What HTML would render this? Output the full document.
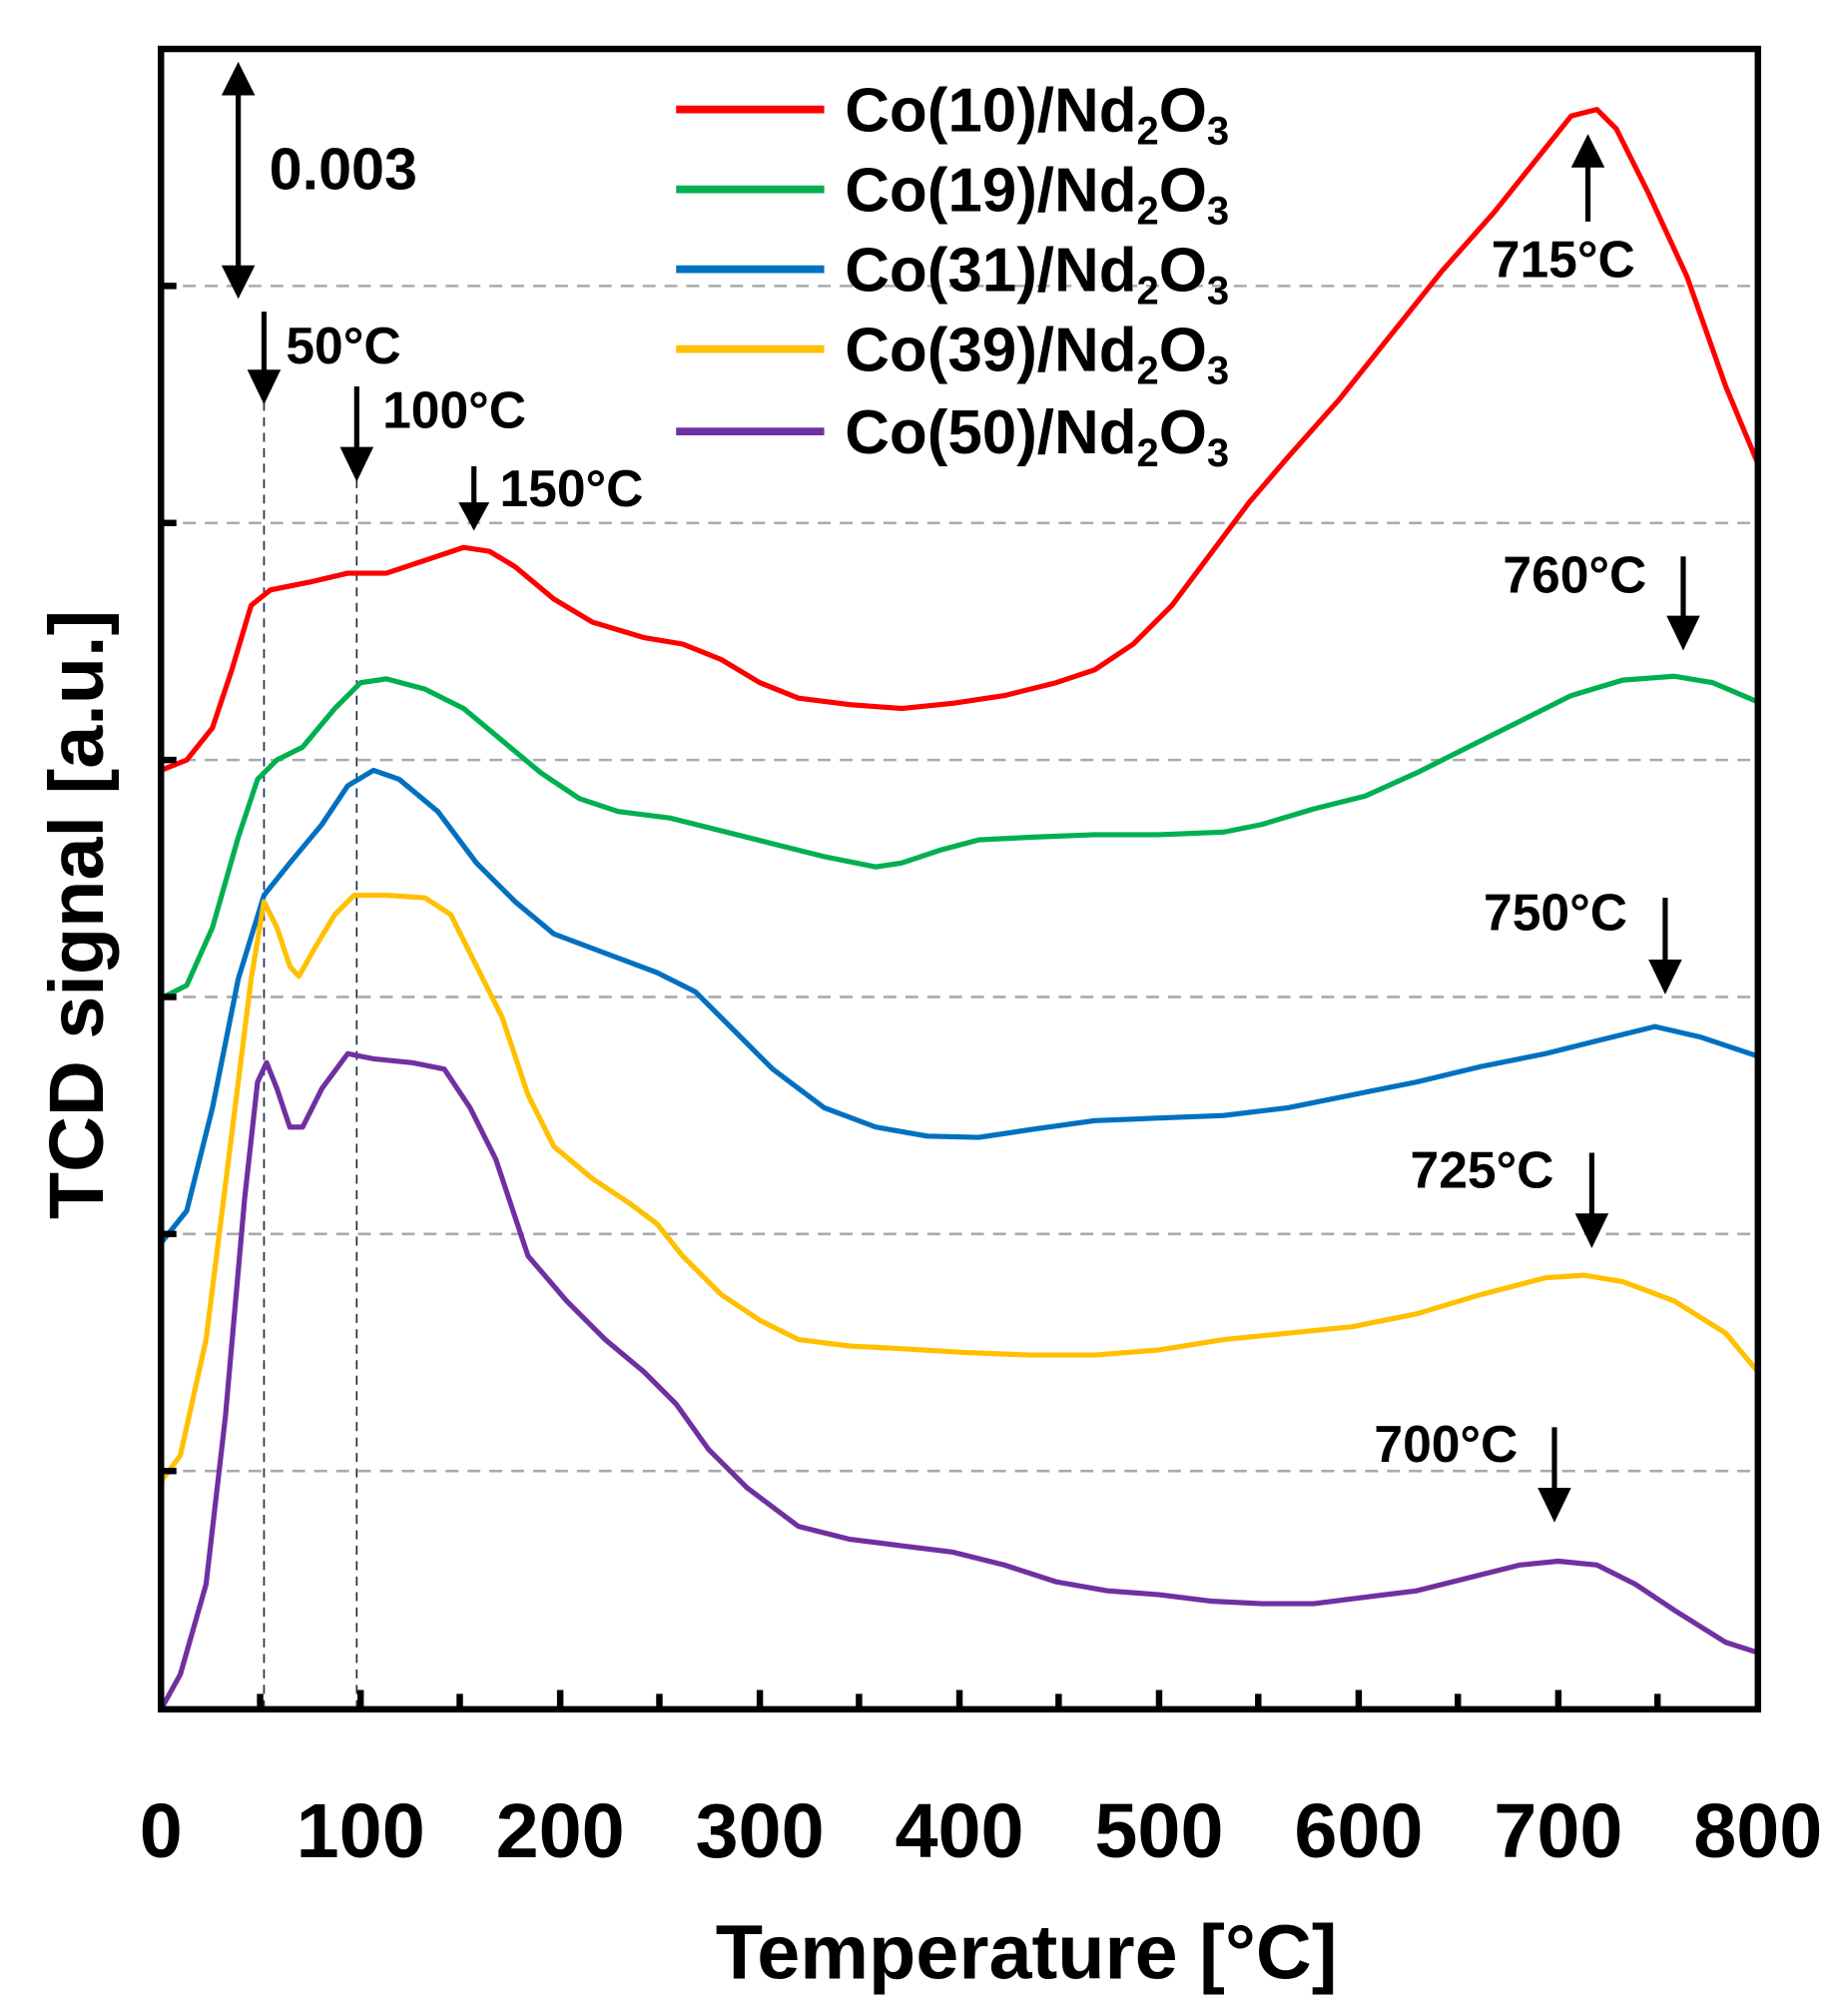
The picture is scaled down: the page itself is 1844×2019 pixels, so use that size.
<!DOCTYPE html>
<html><head><meta charset="utf-8"><style>
html,body{margin:0;padding:0;background:#fff;width:1844px;height:2019px;overflow:hidden}
svg{display:block}
text{font-family:"Liberation Sans",sans-serif;font-weight:bold;fill:#000}
</style></head><body>
<svg width="1844" height="2019" viewBox="0 0 1429.5 1565.1" preserveAspectRatio="none">
<g stroke="#aaa" stroke-width="2" stroke-dasharray="10,7">
<line x1="125" y1="222" x2="1365" y2="222"/><line x1="125" y1="406" x2="1365" y2="406"/>
<line x1="125" y1="590" x2="1365" y2="590"/><line x1="125" y1="774" x2="1365" y2="774"/>
<line x1="125" y1="958" x2="1365" y2="958"/><line x1="125" y1="1142" x2="1365" y2="1142"/>
</g>
<g stroke="#1f2d4d" stroke-width="1.3" stroke-dasharray="7,5">
<line x1="205" y1="312" x2="205" y2="1327"/><line x1="277" y1="372" x2="277" y2="1327"/>
</g>
<g fill="none" stroke-width="4" stroke-linejoin="round" stroke-linecap="round">
<polyline stroke="#ff0000" points="125,598 145,590 165,565 180,520 195,470 210,458 240,452 270,445 300,445 330,435 360,425 380,428 400,440 430,465 460,483 500,495 530,500 560,512 590,530 620,542 660,547 700,550 740,546 780,540 820,530 850,520 880,500 910,470 940,430 970,390 1000,355 1040,310 1080,260 1120,210 1160,165 1200,115 1220,90 1240,85 1255,100 1280,150 1310,215 1340,300 1365,360"/>
<polyline stroke="#00b050" points="125,775 145,765 165,720 185,650 200,605 215,590 235,580 260,550 280,530 300,527 330,535 360,550 390,575 420,600 450,620 480,630 520,635 560,645 600,655 640,665 680,673 700,670 730,660 760,652 800,650 850,648 900,648 950,646 980,640 1020,628 1060,618 1100,600 1140,580 1180,560 1220,540 1260,528 1300,525 1330,530 1365,545"/>
<polyline stroke="#0070c0" points="125,965 145,940 165,860 185,760 205,695 225,670 250,640 270,610 290,598 310,605 340,630 370,670 400,700 430,725 470,740 510,755 540,770 570,800 600,830 640,860 680,875 720,882 760,883 800,877 850,870 900,868 950,866 1000,860 1050,850 1100,840 1150,828 1200,818 1240,808 1285,797 1320,805 1365,820"/>
<polyline stroke="#ffc000" points="125,1150 140,1130 160,1040 180,880 195,760 205,700 215,720 225,750 232,758 245,735 260,710 275,695 300,695 330,697 350,710 370,750 390,790 410,850 430,890 460,915 490,935 510,950 530,975 560,1005 590,1025 620,1040 660,1045 700,1047 750,1050 800,1052 850,1052 900,1048 950,1040 1000,1035 1050,1030 1100,1020 1150,1005 1200,992 1230,990 1260,995 1300,1010 1340,1035 1365,1065"/>
<polyline stroke="#7030a0" points="125,1327 140,1300 160,1230 175,1100 190,930 200,840 207,825 215,845 225,875 235,875 250,845 270,818 290,822 320,825 345,830 365,860 385,900 410,975 440,1010 470,1040 500,1065 525,1090 550,1125 580,1155 620,1185 660,1195 700,1200 740,1205 780,1215 820,1228 860,1235 900,1238 940,1243 980,1245 1020,1245 1060,1240 1100,1235 1140,1225 1180,1215 1210,1212 1240,1215 1270,1230 1300,1250 1340,1275 1365,1283"/>
</g>
<g stroke="#000" stroke-width="5">
<line x1="125" y1="222" x2="137" y2="222"/><line x1="125" y1="406" x2="137" y2="406"/><line x1="125" y1="590" x2="137" y2="590"/>
<line x1="125" y1="774" x2="137" y2="774"/><line x1="125" y1="958" x2="137" y2="958"/><line x1="125" y1="1142" x2="137" y2="1142"/>
<line x1="202" y1="1327" x2="202" y2="1315"/><line x1="280" y1="1327" x2="280" y2="1312"/><line x1="357" y1="1327" x2="357" y2="1315"/>
<line x1="435" y1="1327" x2="435" y2="1312"/><line x1="512" y1="1327" x2="512" y2="1315"/><line x1="590" y1="1327" x2="590" y2="1312"/>
<line x1="667" y1="1327" x2="667" y2="1315"/><line x1="745" y1="1327" x2="745" y2="1312"/><line x1="822" y1="1327" x2="822" y2="1315"/>
<line x1="900" y1="1327" x2="900" y2="1312"/><line x1="977" y1="1327" x2="977" y2="1315"/><line x1="1055" y1="1327" x2="1055" y2="1312"/>
<line x1="1132" y1="1327" x2="1132" y2="1315"/><line x1="1210" y1="1327" x2="1210" y2="1312"/><line x1="1287" y1="1327" x2="1287" y2="1315"/>
</g>
<rect x="125" y="38" width="1240" height="1289" fill="none" stroke="#000" stroke-width="5"/>
<g stroke-width="6">
<line x1="525" y1="85" x2="640" y2="85" stroke="#ff0000"/>
<line x1="525" y1="147" x2="640" y2="147" stroke="#00b050"/>
<line x1="525" y1="209" x2="640" y2="209" stroke="#0070c0"/>
<line x1="525" y1="271" x2="640" y2="271" stroke="#ffc000"/>
<line x1="525" y1="335" x2="640" y2="335" stroke="#7030a0"/>
</g>
<g font-size="48">
<text x="656" y="102">Co(10)/Nd<tspan font-size="31" dy="10">2</tspan><tspan dy="-10">O</tspan><tspan font-size="31" dy="10">3</tspan></text>
<text x="656" y="164">Co(19)/Nd<tspan font-size="31" dy="10">2</tspan><tspan dy="-10">O</tspan><tspan font-size="31" dy="10">3</tspan></text>
<text x="656" y="226">Co(31)/Nd<tspan font-size="31" dy="10">2</tspan><tspan dy="-10">O</tspan><tspan font-size="31" dy="10">3</tspan></text>
<text x="656" y="288">Co(39)/Nd<tspan font-size="31" dy="10">2</tspan><tspan dy="-10">O</tspan><tspan font-size="31" dy="10">3</tspan></text>
<text x="656" y="352">Co(50)/Nd<tspan font-size="31" dy="10">2</tspan><tspan dy="-10">O</tspan><tspan font-size="31" dy="10">3</tspan></text>
</g>
<g stroke="#000" stroke-width="4">
<line x1="185" y1="62" x2="185" y2="218"/>
<line x1="205" y1="242" x2="205" y2="300"/>
<line x1="277" y1="300" x2="277" y2="360"/>
<line x1="368" y1="362" x2="368" y2="400"/>
<line x1="1233" y1="172" x2="1233" y2="118"/>
<line x1="1307" y1="432" x2="1307" y2="490"/>
<line x1="1293" y1="697" x2="1293" y2="757"/>
<line x1="1236" y1="895" x2="1236" y2="955"/>
<line x1="1207" y1="1108" x2="1207" y2="1168"/>
</g>
<g fill="#000">
<polygon points="172,74 185,48 198,74"/><polygon points="172,206 185,232 198,206"/>
<polygon points="192,287 205,314 218,287"/>
<polygon points="264,347 277,374 290,347"/>
<polygon points="356,390 368,412 380,390"/>
<polygon points="1220,130 1233,104 1246,130"/>
<polygon points="1294,478 1307,505 1320,478"/>
<polygon points="1280,745 1293,772 1306,745"/>
<polygon points="1223,942 1236,969 1249,942"/>
<polygon points="1194,1155 1207,1182 1220,1155"/>
</g>
<g font-size="40">
<text x="209" y="147" font-size="46">0.003</text>
<text x="222" y="282">50°C</text>
<text x="297" y="332">100°C</text>
<text x="388" y="393">150°C</text>
<text x="1158" y="215">715°C</text>
<text x="1167" y="460">760°C</text>
<text x="1152" y="722">750°C</text>
<text x="1095" y="922">725°C</text>
<text x="1067" y="1135">700°C</text>
</g>
<g font-size="60" text-anchor="middle">
<text x="125" y="1442">0</text><text x="280" y="1442">100</text><text x="435" y="1442">200</text>
<text x="590" y="1442">300</text><text x="745" y="1442">400</text><text x="900" y="1442">500</text>
<text x="1055" y="1442">600</text><text x="1210" y="1442">700</text><text x="1365" y="1442">800</text>
<text x="797" y="1536">Temperature [°C]</text>
<text transform="translate(80,710) rotate(-90)">TCD signal [a.u.]</text>
</g>
</svg>
</body></html>
